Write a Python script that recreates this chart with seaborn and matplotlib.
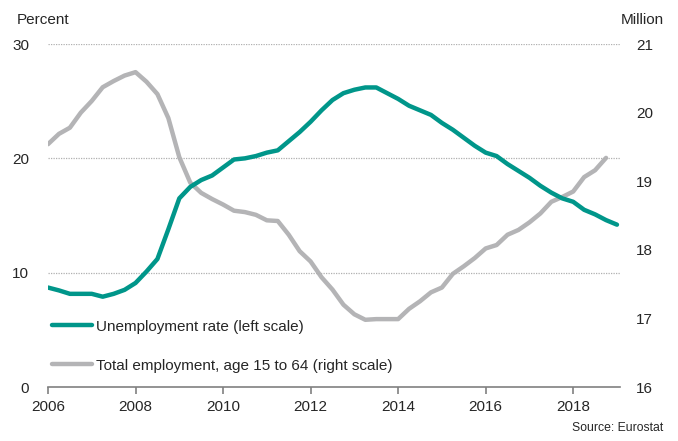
import pandas as pd
import seaborn as sns
import matplotlib.pyplot as plt
import numpy as np

# quarterly values, 2006Q1 onwards
unemployment = [8.7, 8.45, 8.15, 8.15, 8.15, 7.9, 8.15, 8.5,
                9.1, 10.1, 11.2, 13.8, 16.5, 17.5, 18.1, 18.5,
                19.2, 19.9, 20.0, 20.2, 20.5, 20.7, 21.5, 22.3,
                23.2, 24.2, 25.1, 25.7, 26.0, 26.2, 26.2, 25.7,
                25.2, 24.6, 24.2, 23.8, 23.1, 22.5, 21.8, 21.1,
                20.5, 20.2, 19.5, 18.9, 18.3, 17.6, 17.0, 16.5,
                16.2, 15.5, 15.1, 14.6, 14.2]
employment = [19.54, 19.69, 19.78, 20.00, 20.17, 20.37, 20.46, 20.54,
              20.59, 20.45, 20.27, 19.92, 19.35, 18.98, 18.83, 18.74,
              18.66, 18.57, 18.55, 18.51, 18.43, 18.42, 18.22, 17.98,
              17.83, 17.60, 17.42, 17.20, 17.06, 16.98, 16.99, 16.99,
              16.99, 17.14, 17.25, 17.38, 17.45, 17.65, 17.76, 17.88,
              18.02, 18.07, 18.22, 18.29, 18.40, 18.53, 18.70, 18.77,
              18.85, 19.06, 19.16, 19.34]
year_ticks = [2006, 2008, 2010, 2012, 2014, 2016, 2018]
left_ticks = [0, 10, 20, 30]
right_ticks = [16, 17, 18, 19, 20, 21]

df_u = pd.DataFrame({"time": 2006 + np.arange(len(unemployment)) / 4, "value": unemployment})
df_e = pd.DataFrame({"time": 2006 + np.arange(len(employment)) / 4, "value": employment})

sns.set_style("white")
plt.rcParams['font.family'] = ['Liberation Sans', 'DejaVu Sans']
txt = '#262626'
fs = 11

f = plt.figure(figsize=(6.78, 4.41), dpi=100)
ax = f.add_axes([0.0708, 0.1224, 0.8437, 0.7778])
ax2 = ax.twinx()

sns.lineplot(x="time", y="value", data=df_u, ax=ax, color='#00968a', lw=3.2,
             label="Unemployment rate (left scale)", legend=False)
sns.lineplot(x="time", y="value", data=df_e, ax=ax2, color='#b4b4b6', lw=3.2,
             label="Total employment, age 15 to 64 (right scale)", legend=False)

ax.set_xlim(2006, 2019.07)
ax.set_ylim(0, 30)
ax2.set_ylim(16, 21)
ax.set_zorder(ax2.get_zorder() + 1)
ax.patch.set_visible(False)

ax.set_xticks(year_ticks)
ax.set_yticks(left_ticks)
ax2.set_yticks(right_ticks)
ax.set_xlabel("")
ax.set_ylabel("")
ax2.set_ylabel("")

for y in [10, 20, 30]:
    ax.axhline(y, color='#b0b0b0', lw=0.9, ls=(0, (1, 1)), zorder=0)

for a in (ax, ax2):
    for s in ['top', 'left', 'right']:
        a.spines[s].set_visible(False)
ax2.spines['bottom'].set_visible(False)
ax.spines['bottom'].set_color('#808080')
ax.spines['bottom'].set_linewidth(1.2)

ax.tick_params(axis='x', bottom=True, direction='out', length=5, width=1.2,
               color='#808080', labelsize=fs, labelcolor=txt, pad=4)
ax.tick_params(axis='y', left=False, labelsize=fs, labelcolor=txt, pad=10)
ax2.tick_params(axis='y', right=False, labelsize=fs, labelcolor=txt, pad=8)

f.text(0.024, 0.955, "Percent", fontsize=fs, color=txt, va='center')
f.text(0.915, 0.955, "Million", fontsize=fs, color=txt, va='center')
f.text(0.978, 0.016, "Source: Eurostat", fontsize=8.8, color=txt, ha='right', va='bottom')

h1, l1 = ax.get_legend_handles_labels()
h2, l2 = ax2.get_legend_handles_labels()
leg = ax.legend(h1 + h2, l1 + l2, loc='upper left', bbox_to_anchor=(0.007, 0.196),
                frameon=False, fontsize=fs, handlelength=2.6, handletextpad=0.3,
                labelspacing=1.62, borderpad=0, borderaxespad=0)
for t in leg.get_texts():
    t.set_color(txt)

f.savefig("out.png", dpi=100)
plt.close(f)
